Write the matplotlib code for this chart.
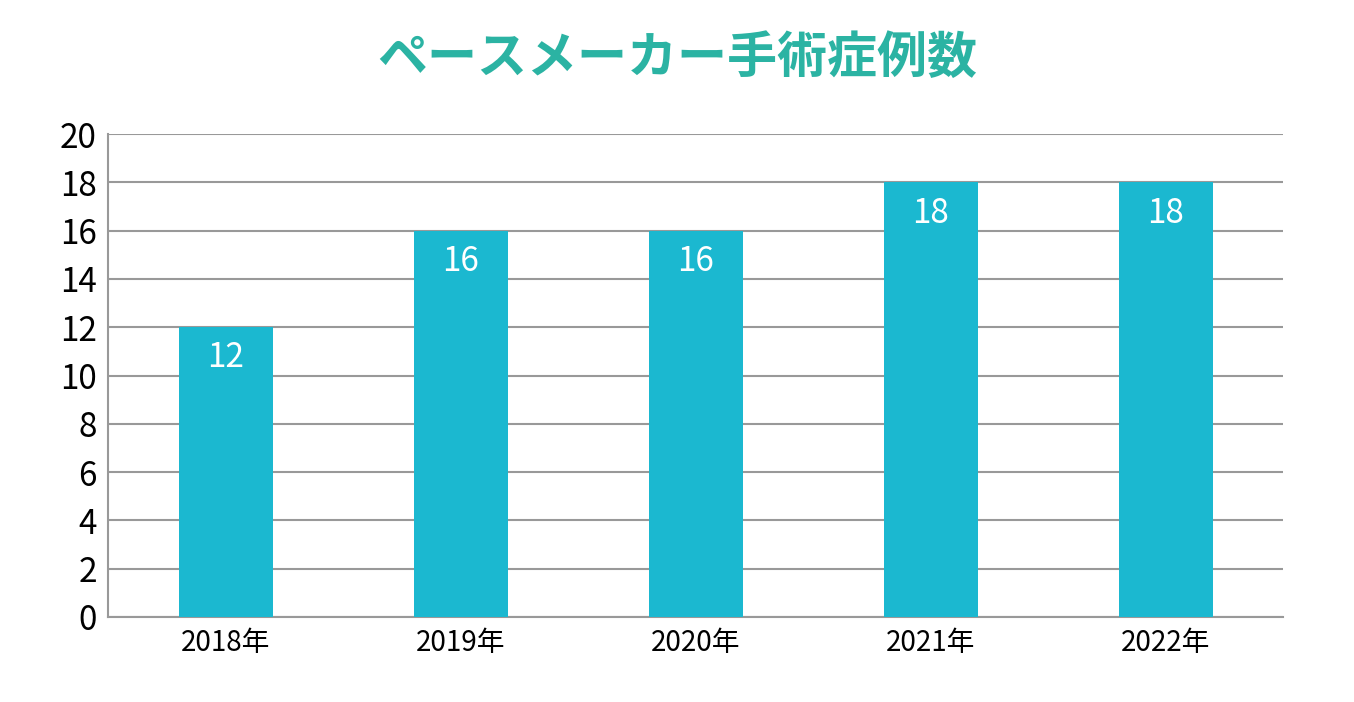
import matplotlib
matplotlib.use("Agg")
import matplotlib.pyplot as plt

categories = ["2018年", "2019年", "2020年", "2021年", "2022年"]
values = [12, 16, 16, 18, 18]
yticks = list(range(0, 21, 2))
title = "ペースメーカー手術症例数"

plt.rcParams["font.family"] = "Noto Sans CJK JP"
fig = plt.figure(figsize=(13.54, 7.02), dpi=100)
ax = fig.add_axes([108/1354, 1-617/702, 1175/1354, 483/702])
x = list(range(len(categories)))
ax.bar(x, values, width=0.4, color="#1bb8d0", zorder=3)
for xi, v in zip(x, values):
    ax.text(xi, v - 0.55, str(v), ha="center", va="top", color="white", fontsize=24, zorder=4)
ax.set_xlim(-0.5, 4.5)
ax.set_ylim(0, 20)
ax.set_yticks(yticks)
ax.set_yticklabels([str(t) for t in yticks], fontsize=24)
ax.set_xticks(x)
ax.set_xticklabels(categories, fontsize=20)
ax.yaxis.grid(True, color="#999999", linewidth=1.5, zorder=0)
for s in ["top", "right"]:
    ax.spines[s].set_visible(False)
ax.spines["left"].set_color("#999999")
ax.spines["bottom"].set_color("#999999")
ax.spines["left"].set_linewidth(1.5)
ax.spines["bottom"].set_linewidth(1.5)
ax.tick_params(length=0, pad=8)
fig.text(0.5, 1-58/702, title, ha="center", va="center", fontsize=36,
         fontweight="bold", color="#2bb3a3")
fig.savefig("out.png", dpi=100)
